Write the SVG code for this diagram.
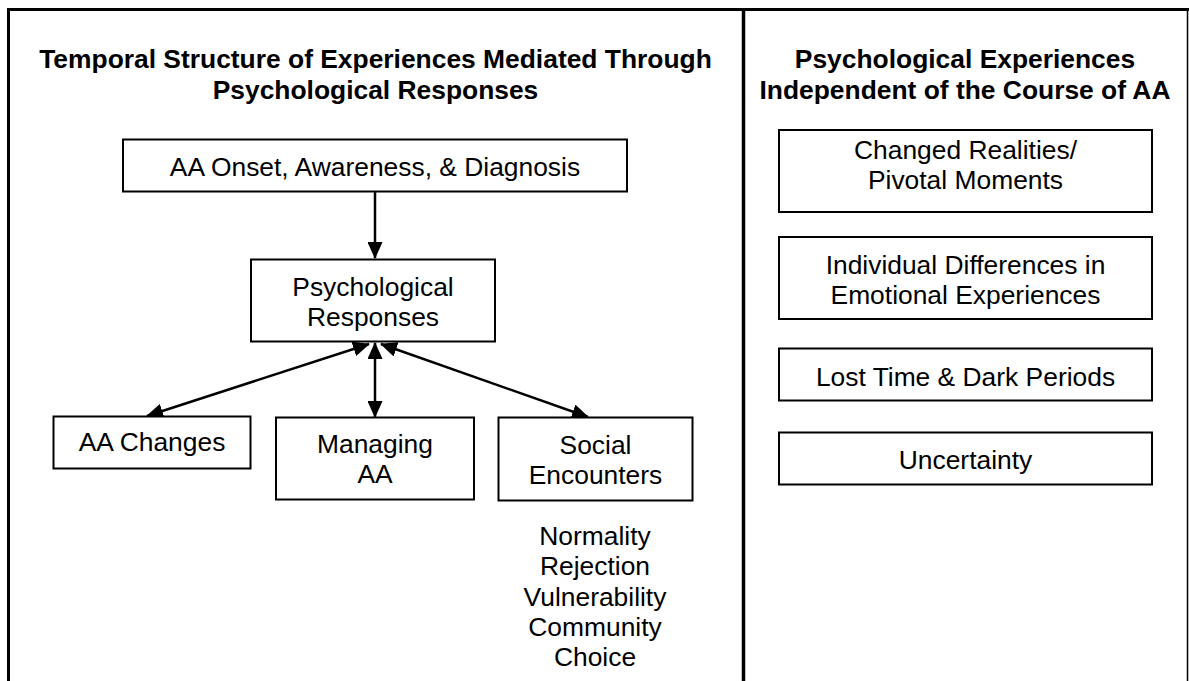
<svg xmlns="http://www.w3.org/2000/svg" width="1189" height="681" viewBox="0 0 1189 681">
  <style>
    .frame { stroke: #000; fill: none; }
    .box { fill: #fff; stroke: #000; stroke-width: 2; }
    .t { font-family: "Liberation Sans", Arial, sans-serif; font-size: 26.4px; text-anchor: middle; fill: #000; }
    .h { font-weight: bold; }
    .link { stroke: #000; stroke-width: 2.5; fill: none; }
    .one { marker-end: url(#head); }
    .two { marker-start: url(#head); marker-end: url(#head); }
  </style>
  <defs>
    <marker id="head" viewBox="0 0 17 15" refX="16" refY="7.5" markerWidth="17" markerHeight="15" markerUnits="userSpaceOnUse" orient="auto-start-reverse">
      <path d="M0,0 L17,7.5 L0,15 z" fill="#000"/>
    </marker>
  </defs>

  <rect width="1189" height="681" fill="#fff"/>

  <!-- open frame: top rule, left rule, panel divider, thin right rule -->
  <g id="frame">
    <line class="frame" x1="7" y1="9.5" x2="1189" y2="9.5" stroke-width="3"/>
    <line class="frame" x1="8.5" y1="8" x2="8.5" y2="681" stroke-width="3"/>
    <line class="frame" x1="743.5" y1="8" x2="743.5" y2="681" stroke-width="3.5"/>
    <line class="frame" x1="1187.5" y1="8" x2="1187.5" y2="681" stroke-width="1.5"/>
  </g>

  <!-- panel headings -->
  <g id="title-left">
    <text class="t h" x="375.5" y="68">Temporal Structure of Experiences Mediated Through</text>
    <text class="t h" x="375.5" y="99">Psychological Responses</text>
  </g>
  <g id="title-right">
    <text class="t h" x="965" y="68">Psychological Experiences</text>
    <text class="t h" x="965" y="99">Independent of the Course of AA</text>
  </g>

  <!-- connectors -->
  <g id="connectors">
    <line class="link one" x1="375" y1="192" x2="375" y2="258"/>
    <line class="link two" x1="369" y1="344" x2="147" y2="416"/>
    <line class="link two" x1="375" y1="343" x2="375" y2="417"/>
    <line class="link two" x1="381" y1="344" x2="588" y2="417"/>
  </g>

  <!-- left panel nodes -->
  <g id="onset">
    <rect class="box" x="123" y="139.5" width="504" height="52"/>
    <text class="t" x="375" y="175.5">AA Onset, Awareness, &amp; Diagnosis</text>
  </g>
  <g id="responses">
    <rect class="box" x="251" y="259.5" width="244" height="82"/>
    <text class="t" x="373" y="296">Psychological</text>
    <text class="t" x="373" y="326">Responses</text>
  </g>
  <g id="changes">
    <rect class="box" x="53.5" y="416.5" width="197" height="52"/>
    <text class="t" x="152" y="451">AA Changes</text>
  </g>
  <g id="managing">
    <rect class="box" x="276" y="417.5" width="198" height="82"/>
    <text class="t" x="375" y="453">Managing</text>
    <text class="t" x="375" y="483">AA</text>
  </g>
  <g id="social">
    <rect class="box" x="498.5" y="417.5" width="194" height="83"/>
    <text class="t" x="595.5" y="454">Social</text>
    <text class="t" x="595.5" y="484">Encounters</text>
  </g>
  <g id="social-themes">
    <text class="t" x="595" y="545">Normality</text>
    <text class="t" x="595" y="575">Rejection</text>
    <text class="t" x="595" y="605.5">Vulnerability</text>
    <text class="t" x="595" y="636">Community</text>
    <text class="t" x="595" y="666">Choice</text>
  </g>

  <!-- right panel nodes -->
  <g id="realities">
    <rect class="box" x="779" y="130" width="373" height="82"/>
    <text class="t" x="965.5" y="159">Changed Realities/</text>
    <text class="t" x="965.5" y="189">Pivotal Moments</text>
  </g>
  <g id="differences">
    <rect class="box" x="779" y="237" width="373" height="82"/>
    <text class="t" x="965.5" y="274">Individual Differences in</text>
    <text class="t" x="965.5" y="304">Emotional Experiences</text>
  </g>
  <g id="lost-time">
    <rect class="box" x="779" y="348.5" width="373" height="52"/>
    <text class="t" x="965.5" y="385.5">Lost Time &amp; Dark Periods</text>
  </g>
  <g id="uncertainty">
    <rect class="box" x="779" y="432.5" width="373" height="52"/>
    <text class="t" x="965.5" y="469">Uncertainty</text>
  </g>
</svg>
